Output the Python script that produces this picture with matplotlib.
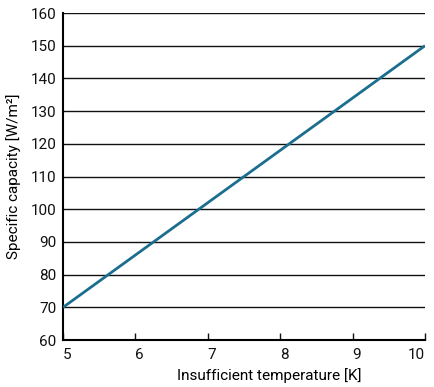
import matplotlib
matplotlib.use("Agg")
import matplotlib.pyplot as plt

plt.rcParams["font.family"] = ["Liberation Sans Narrow", "Roboto", "DejaVu Sans"]

temperature = [5, 10]
capacity = [70, 150]
x_ticks = [5, 6, 7, 8, 9, 10]
y_ticks = [60, 70, 80, 90, 100, 110, 120, 130, 140, 150, 160]

fig = plt.figure(figsize=(4.35, 3.87), dpi=100)
ax = fig.add_axes([0.145, 0.1214, 0.832, 0.845])

for y in y_ticks[1:]:
    ax.axhline(y, color="#111111", linewidth=1.0, zorder=1)
ax.plot(temperature, capacity, color="#1a6e8e", linewidth=2.0, zorder=3,
        solid_capstyle="butt")

ax.set_xlim(5, 10)
ax.set_ylim(60, 160)
ax.set_xticks(x_ticks)
ax.set_yticks(y_ticks)
ax.tick_params(axis="x", direction="in", length=5, width=1.0, colors="#111111",
               labelsize=11, pad=6)
ax.tick_params(axis="y", length=0, labelsize=11, pad=5, colors="#111111")
for lab in ax.get_xticklabels():
    lab.set_horizontalalignment("left")
ax.get_xticklabels()[-1].set_horizontalalignment("right")
ax.spines["top"].set_visible(False)
ax.spines["right"].set_visible(False)
ax.spines["left"].set_linewidth(1.5)
ax.spines["bottom"].set_linewidth(1.5)
ax.set_xlabel("Insufficient temperature [K]", fontsize=11, labelpad=2)
ax.xaxis.set_label_coords(0.57, -0.085)
ax.set_ylabel("Specific capacity [W/m²]", fontsize=11)
ax.yaxis.set_label_coords(-0.115, 0.5)

fig.savefig("out.png", dpi=100)
